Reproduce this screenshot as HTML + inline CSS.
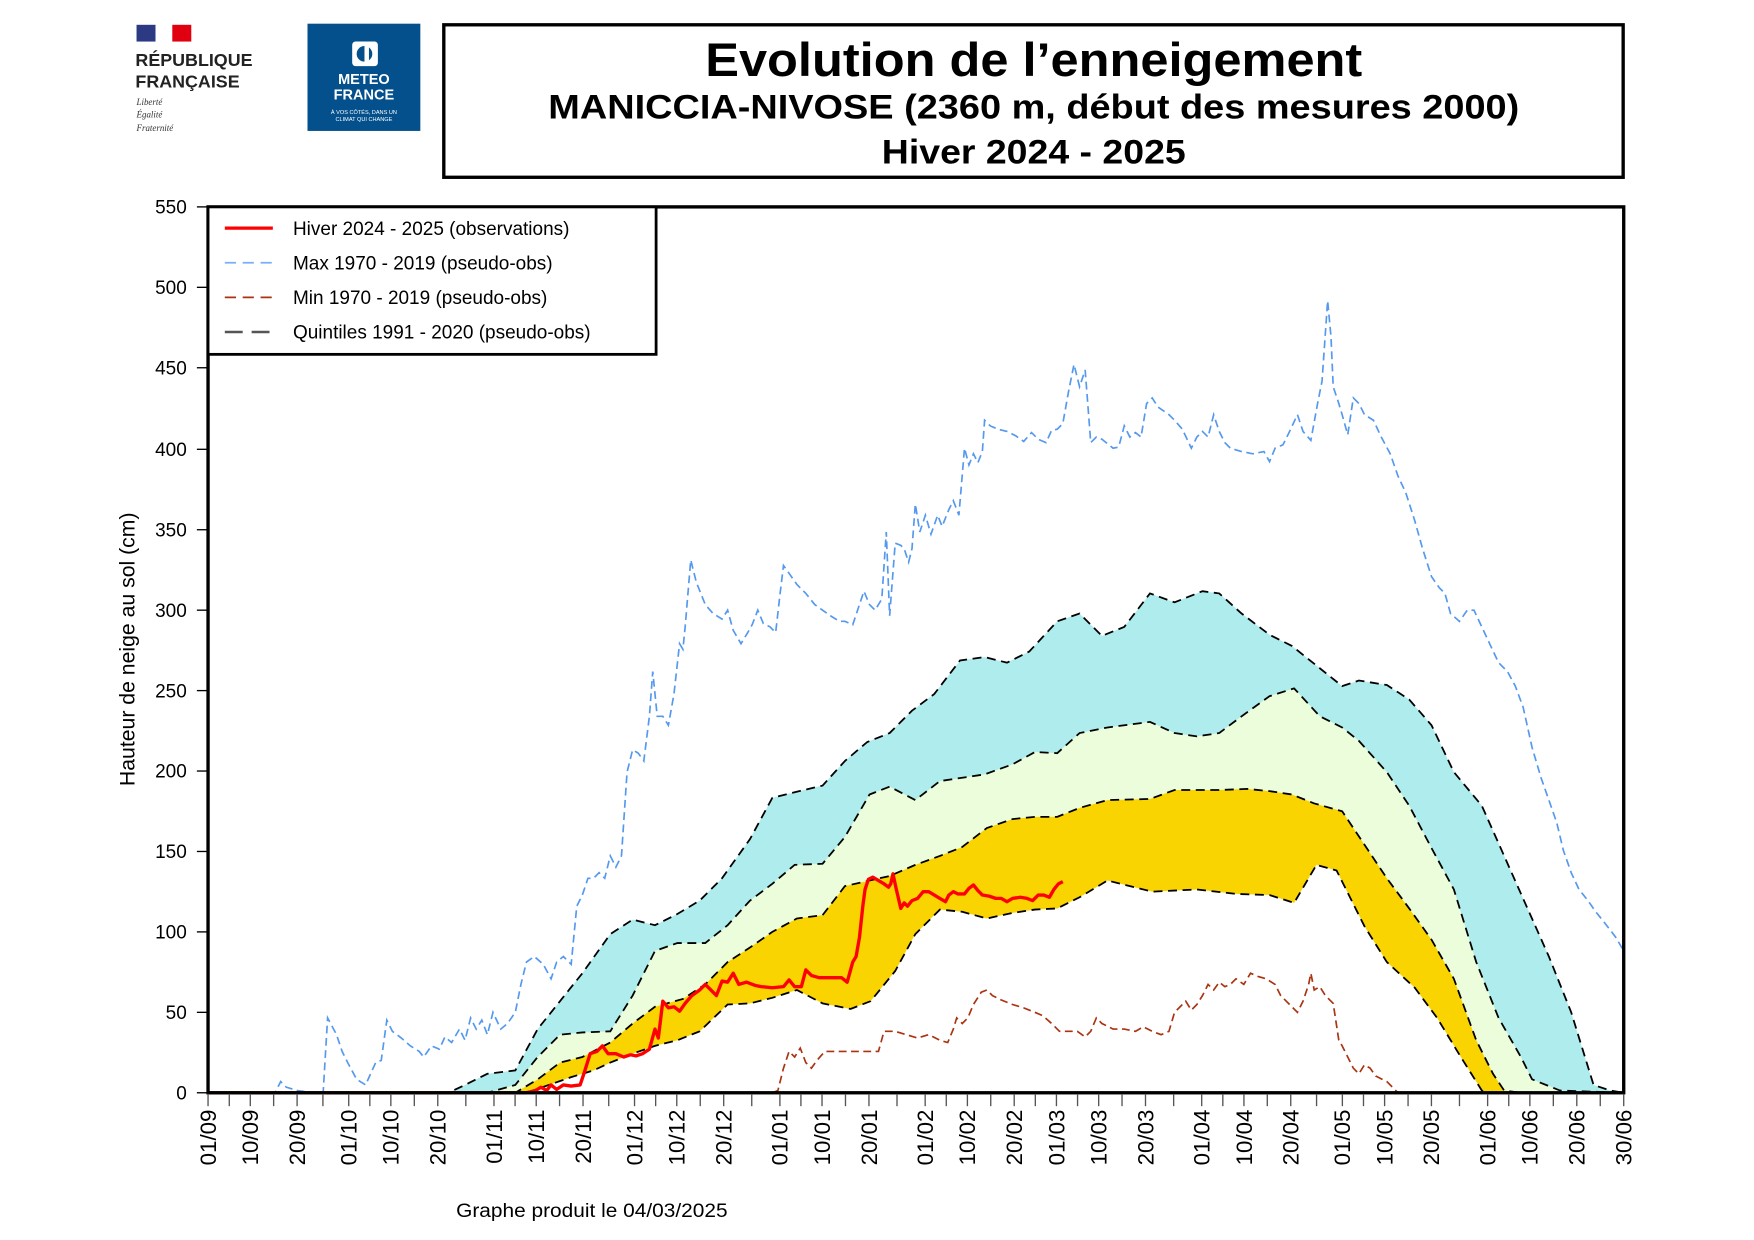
<!DOCTYPE html>
<html><head><meta charset="utf-8"><style>html,body{margin:0;padding:0;background:#fff}svg{display:block}</style></head>
<body>
<svg width="1754" height="1240" viewBox="-1.2 -1.2 1569.8 1110" preserveAspectRatio="none" xmlns="http://www.w3.org/2000/svg" font-family="Liberation Sans, sans-serif">
<rect x="-5" y="-5" width="1580" height="1120" fill="#fff"/>
<!-- logos -->
<rect x="121" y="21" width="17" height="15" fill="#2b3a83"/><rect x="138" y="21" width="15" height="15" fill="#fff"/><rect x="153" y="21" width="17" height="15" fill="#e1000f"/>
<text x="120" y="58" font-size="16" font-weight="bold" fill="#222">RÉPUBLIQUE</text>
<text x="120" y="77" font-size="16" font-weight="bold" fill="#222">FRANÇAISE</text>
<text x="121" y="93" font-size="8" font-style="italic" font-family="Liberation Serif, serif" fill="#333">Liberté</text>
<text x="121" y="104" font-size="8" font-style="italic" font-family="Liberation Serif, serif" fill="#333">Égalité</text>
<text x="121" y="116" font-size="8" font-style="italic" font-family="Liberation Serif, serif" fill="#333">Fraternité</text>
<rect x="274" y="20" width="101" height="96" fill="#03508c"/>
<rect x="314" y="36" width="23" height="22" rx="3" fill="#fff"/><circle cx="325" cy="47" r="7" fill="#03508c"/><rect x="325" y="39" width="4" height="16" fill="#fff"/>
<text x="324.5" y="74" font-size="13" font-weight="bold" fill="#fff" text-anchor="middle">METEO</text>
<text x="324.5" y="88" font-size="13" font-weight="bold" fill="#fff" text-anchor="middle">FRANCE</text>
<text x="324.5" y="101" font-size="5" fill="#fff" text-anchor="middle">À VOS CÔTÉS, DANS UN</text>
<text x="324.5" y="107" font-size="5" fill="#fff" text-anchor="middle">CLIMAT QUI CHANGE</text>
<!-- title -->
<rect x="396" y="21" width="1055.5" height="136.5" fill="none" stroke="#000" stroke-width="3"/>
<text x="924" y="67" font-size="42" font-weight="bold" text-anchor="middle" textLength="588" lengthAdjust="spacingAndGlyphs">Evolution de l’enneigement</text>
<text x="924" y="105" font-size="31" font-weight="bold" text-anchor="middle" textLength="869" lengthAdjust="spacingAndGlyphs">MANICCIA-NIVOSE (2360 m, début des mesures 2000)</text>
<text x="924" y="145" font-size="31" font-weight="bold" text-anchor="middle" textLength="272" lengthAdjust="spacingAndGlyphs">Hiver 2024 - 2025</text>
<!-- bands -->
<polygon fill="#aeeced" points="185,977 400,977 415,970 435,960 460,957 480,920 500,895 520,870 545,835 565,822 585,827 605,817 625,805 645,785 670,750 690,713 710,708 735,702 755,680 775,663 795,655 815,635 835,620 858,590 880,587 900,592 920,582 945,555 965,548 985,568 1005,560 1028,530 1050,538 1075,528 1090,530 1110,548 1135,567 1155,577 1180,597 1200,613 1215,608 1240,612 1260,625 1280,648 1300,690 1325,720 1345,765 1365,810 1385,855 1405,905 1425,970 1440,975 1452,977"/>
<polygon fill="#ebfddb" points="185,977 435,977 460,970 480,945 500,925 520,923 545,922 565,890 585,850 605,843 630,843 650,827 670,805 690,790 710,773 735,772 755,748 777,710 795,703 818,715 840,698 880,692 905,683 925,672 945,673 965,655 990,650 1028,645 1050,655 1070,658 1090,655 1110,640 1135,622 1157,615 1180,640 1200,650 1215,662 1240,690 1260,720 1280,758 1300,795 1320,860 1340,910 1360,945 1370,965 1395,975 1452,977"/>
<polygon fill="#fad400" points="185,977 460,977 480,965 500,950 520,945 545,932 565,915 585,900 610,893 630,880 650,860 670,847 690,833 712,821 735,818 755,792 777,787 795,783 818,773 840,765 860,757 882,740 905,732 925,730 945,730 965,722 990,715 1028,714 1050,706 1090,706 1115,705 1135,707 1155,710 1175,718 1200,725 1220,755 1240,785 1260,812 1280,840 1300,875 1320,930 1335,960 1345,975 1360,977 1452,977"/>
<polygon fill="#fff" points="185,977 470,977 490,970 510,963 530,957 545,950 565,942 585,935 605,930 625,922 650,898 670,897 690,892 712,885 735,897 760,902 778,895 800,868 818,835 840,813 860,815 882,821 905,816 925,813 945,812 965,802 990,787 1030,797 1070,795 1105,799 1135,800 1157,807 1177,773 1195,778 1220,828 1240,860 1265,883 1285,910 1305,943 1325,975 1330,977 1452,977"/>
<g fill="none" stroke="#000" stroke-width="1.6" stroke-dasharray="8,5">
<polyline points="185,977 400,977 415,970 435,960 460,957 480,920 500,895 520,870 545,835 565,822 585,827 605,817 625,805 645,785 670,750 690,713 710,708 735,702 755,680 775,663 795,655 815,635 835,620 858,590 880,587 900,592 920,582 945,555 965,548 985,568 1005,560 1028,530 1050,538 1075,528 1090,530 1110,548 1135,567 1155,577 1180,597 1200,613 1215,608 1240,612 1260,625 1280,648 1300,690 1325,720 1345,765 1365,810 1385,855 1405,905 1425,970 1440,975 1452,977"/>
<polyline points="185,977 435,977 460,970 480,945 500,925 520,923 545,922 565,890 585,850 605,843 630,843 650,827 670,805 690,790 710,773 735,772 755,748 777,710 795,703 818,715 840,698 880,692 905,683 925,672 945,673 965,655 990,650 1028,645 1050,655 1070,658 1090,655 1110,640 1135,622 1157,615 1180,640 1200,650 1215,662 1240,690 1260,720 1280,758 1300,795 1320,860 1340,910 1360,945 1370,965 1395,975 1452,977"/>
<polyline points="185,977 460,977 480,965 500,950 520,945 545,932 565,915 585,900 610,893 630,880 650,860 670,847 690,833 712,821 735,818 755,792 777,787 795,783 818,773 840,765 860,757 882,740 905,732 925,730 945,730 965,722 990,715 1028,714 1050,706 1090,706 1115,705 1135,707 1155,710 1175,718 1200,725 1220,755 1240,785 1260,812 1280,840 1300,875 1320,930 1335,960 1345,975 1360,977 1452,977"/>
<polyline points="185,977 470,977 490,970 510,963 530,957 545,950 565,942 585,935 605,930 625,922 650,898 670,897 690,892 712,885 735,897 760,902 778,895 800,868 818,835 840,813 860,815 882,821 905,816 925,813 945,812 965,802 990,787 1030,797 1070,795 1105,799 1135,800 1157,807 1177,773 1195,778 1220,828 1240,860 1265,883 1285,910 1305,943 1325,975 1330,977 1452,977"/>
</g>
<!-- max -->
<polyline fill="none" stroke="#5599ee" stroke-width="1.5" stroke-dasharray="7,4" points="185,977 245,977 250,967 255,972 265,975 280,977 288,977 292,910 300,925 305,940 310,950 318,965 326,970 335,950 340,948 345,912 350,922 358,928 366,935 374,940 378,945 385,935 392,938 397,927 403,932 410,920 415,930 420,910 425,920 430,912 435,925 440,905 447,920 453,915 460,905 465,880 470,860 477,855 485,862 492,875 497,860 503,855 510,862 515,810 520,800 525,785 530,785 535,780 540,785 545,765 550,775 555,765 560,690 565,670 570,673 575,680 580,640 583,600 587,640 592,640 597,648 602,620 607,575 610,580 612,560 617,500 622,520 630,540 637,548 645,553 650,545 655,563 662,575 668,565 672,558 677,545 682,557 688,560 693,565 697,530 700,505 705,512 712,522 720,530 728,540 735,545 742,550 750,555 755,555 762,558 768,540 772,528 777,540 782,545 788,535 792,475 795,550 800,485 805,487 808,490 812,502 815,490 818,450 822,475 827,460 832,477 838,460 842,470 848,455 852,447 857,460 862,400 866,415 870,405 874,413 878,403 880,375 885,380 892,383 900,385 908,389 915,394 922,386 928,392 935,395 940,384 945,383 950,378 955,350 960,325 965,345 970,330 975,395 980,390 985,392 995,400 1000,399 1005,380 1010,390 1015,386 1020,390 1025,360 1030,355 1035,363 1045,370 1050,375 1057,383 1065,400 1070,390 1075,385 1080,390 1085,370 1090,385 1095,395 1100,400 1110,403 1120,405 1130,403 1135,412 1140,400 1147,397 1152,387 1160,370 1165,385 1172,393 1178,360 1182,340 1187,268 1190,300 1192,345 1197,360 1200,370 1205,388 1210,355 1215,360 1220,370 1228,375 1235,390 1243,405 1250,425 1257,440 1265,465 1272,490 1280,515 1287,525 1292,530 1297,548 1305,555 1312,545 1318,545 1325,560 1332,575 1340,592 1348,600 1355,613 1362,632 1370,668 1378,695 1385,715 1392,735 1398,760 1405,780 1412,795 1420,805 1427,815 1435,825 1445,838 1452,850"/>
<!-- min -->
<polyline fill="none" stroke="#aa3311" stroke-width="1.5" stroke-dasharray="7,4" points="185,977 690,977 695,975 700,955 705,940 710,945 715,937 720,950 725,955 730,948 737,940 750,940 770,940 785,940 790,922 800,922 810,925 820,928 830,925 840,930 847,932 852,920 855,910 860,915 865,910 870,898 877,887 882,885 887,890 895,894 905,898 915,901 925,905 932,908 940,915 947,922 955,922 963,922 970,927 975,922 980,910 985,915 995,920 1005,920 1015,922 1022,918 1030,922 1038,925 1045,922 1050,905 1055,900 1060,895 1065,903 1070,898 1075,890 1080,880 1085,885 1090,878 1095,882 1100,880 1105,875 1112,880 1118,870 1125,873 1132,875 1140,880 1145,890 1150,895 1155,900 1160,905 1165,895 1170,880 1172,870 1175,885 1180,882 1185,890 1192,897 1197,930 1200,935 1205,945 1210,955 1215,960 1220,952 1225,955 1230,962 1240,967 1245,972 1250,977 1452,977"/>
<!-- obs -->
<polyline fill="none" stroke="#ff0000" stroke-width="3" stroke-linejoin="round" points="185,977 470,977 478,975 483,972 488,975 492,970 497,974 503,970 510,971 518,970 522,958 527,942 533,940 538,935 543,942 550,942 557,945 563,943 568,944 574,942 580,938 585,920 588,928 592,895 597,901 602,900 607,904 612,897 618,890 625,885 630,880 635,885 640,890 645,877 650,878 655,870 660,880 667,878 675,881 680,882 690,883 700,882 705,876 710,882 716,882 720,867 725,872 732,874 740,874 752,874 757,878 762,860 765,855 768,838 771,810 773,795 776,786 780,784 785,787 790,790 794,793 796,790 798,781 801,795 805,812 808,807 811,810 815,805 820,803 825,797 830,797 835,800 840,803 845,806 848,800 852,797 856,799 862,799 866,794 870,791 874,796 878,800 884,801 890,803 895,803 900,806 905,803 912,802 918,803 923,805 928,800 933,800 938,802 942,795 946,790 950,788"/>
<!-- axes frame -->
<rect x="185" y="184" width="1267" height="793" fill="none" stroke="#000" stroke-width="3"/>
<!-- y ticks -->
<g stroke="#000" stroke-width="1.2">
<line x1="175" y1="977" x2="185" y2="977"/><line x1="175" y1="905" x2="185" y2="905"/><line x1="175" y1="833" x2="185" y2="833"/><line x1="175" y1="761" x2="185" y2="761"/><line x1="175" y1="689" x2="185" y2="689"/><line x1="175" y1="617" x2="185" y2="617"/><line x1="175" y1="545" x2="185" y2="545"/><line x1="175" y1="473" x2="185" y2="473"/><line x1="175" y1="401" x2="185" y2="401"/><line x1="175" y1="328" x2="185" y2="328"/><line x1="175" y1="256" x2="185" y2="256"/><line x1="175" y1="184" x2="185" y2="184"/>
</g>
<g font-size="17" text-anchor="end">
<text x="166" y="983">0</text><text x="166" y="911">50</text><text x="166" y="839">100</text><text x="166" y="767">150</text><text x="166" y="695">200</text><text x="166" y="623">250</text><text x="166" y="551">300</text><text x="166" y="479">350</text><text x="166" y="407">400</text><text x="166" y="334">450</text><text x="166" y="262">500</text><text x="166" y="190">550</text>
</g>
<text transform="translate(119,580) rotate(-90)" font-size="19" text-anchor="middle">Hauteur de neige au sol (cm)</text>
<!-- x ticks -->
<g stroke="#555" stroke-width="1.2">
<line x1="185" y1="978" x2="185" y2="989"/><line x1="204" y1="978" x2="204" y2="989"/><line x1="222.8" y1="978" x2="222.8" y2="989"/><line x1="243.7" y1="978" x2="243.7" y2="989"/><line x1="264.7" y1="978" x2="264.7" y2="989"/><line x1="287.8" y1="978" x2="287.8" y2="989"/>
<line x1="310.9" y1="978" x2="310.9" y2="989"/><line x1="329.8" y1="978" x2="329.8" y2="989"/><line x1="348.6" y1="978" x2="348.6" y2="989"/><line x1="369.6" y1="978" x2="369.6" y2="989"/><line x1="390.6" y1="978" x2="390.6" y2="989"/><line x1="415.7" y1="978" x2="415.7" y2="989"/>
<line x1="440.9" y1="978" x2="440.9" y2="989"/><line x1="459.8" y1="978" x2="459.8" y2="989"/><line x1="478.7" y1="978" x2="478.7" y2="989"/><line x1="499.6" y1="978" x2="499.6" y2="989"/><line x1="520.6" y1="978" x2="520.6" y2="989"/><line x1="543.6" y1="978" x2="543.6" y2="989"/>
<line x1="566.7" y1="978" x2="566.7" y2="989"/><line x1="585.6" y1="978" x2="585.6" y2="989"/><line x1="604.5" y1="978" x2="604.5" y2="989"/><line x1="625.5" y1="978" x2="625.5" y2="989"/><line x1="646.5" y1="978" x2="646.5" y2="989"/><line x1="671.6" y1="978" x2="671.6" y2="989"/>
<line x1="696.8" y1="978" x2="696.8" y2="989"/><line x1="715.6" y1="978" x2="715.6" y2="989"/><line x1="734.5" y1="978" x2="734.5" y2="989"/><line x1="755.5" y1="978" x2="755.5" y2="989"/><line x1="776.5" y1="978" x2="776.5" y2="989"/><line x1="801.6" y1="978" x2="801.6" y2="989"/>
<line x1="826.8" y1="978" x2="826.8" y2="989"/><line x1="845.7" y1="978" x2="845.7" y2="989"/><line x1="864.6" y1="978" x2="864.6" y2="989"/><line x1="885.5" y1="978" x2="885.5" y2="989"/><line x1="906.5" y1="978" x2="906.5" y2="989"/><line x1="925.4" y1="978" x2="925.4" y2="989"/>
<line x1="944.3" y1="978" x2="944.3" y2="989"/><line x1="963.2" y1="978" x2="963.2" y2="989"/><line x1="982.1" y1="978" x2="982.1" y2="989"/><line x1="1003" y1="978" x2="1003" y2="989"/><line x1="1024" y1="978" x2="1024" y2="989"/><line x1="1049.2" y1="978" x2="1049.2" y2="989"/>
<line x1="1074.3" y1="978" x2="1074.3" y2="989"/><line x1="1093.2" y1="978" x2="1093.2" y2="989"/><line x1="1112.1" y1="978" x2="1112.1" y2="989"/><line x1="1133" y1="978" x2="1133" y2="989"/><line x1="1154" y1="978" x2="1154" y2="989"/><line x1="1177.1" y1="978" x2="1177.1" y2="989"/>
<line x1="1200.2" y1="978" x2="1200.2" y2="989"/><line x1="1219.1" y1="978" x2="1219.1" y2="989"/><line x1="1238" y1="978" x2="1238" y2="989"/><line x1="1259" y1="978" x2="1259" y2="989"/><line x1="1279.9" y1="978" x2="1279.9" y2="989"/><line x1="1305" y1="978" x2="1305" y2="989"/>
<line x1="1330.2" y1="978" x2="1330.2" y2="989"/><line x1="1349.1" y1="978" x2="1349.1" y2="989"/><line x1="1368" y1="978" x2="1368" y2="989"/><line x1="1389" y1="978" x2="1389" y2="989"/><line x1="1410" y1="978" x2="1410" y2="989"/><line x1="1431" y1="978" x2="1431" y2="989"/><line x1="1452" y1="978" x2="1452" y2="989"/>
</g>
<g font-size="20" text-anchor="end">
<text transform="translate(192,992) rotate(-90)">01/09</text><text transform="translate(229.8,992) rotate(-90)">10/09</text><text transform="translate(271.7,992) rotate(-90)">20/09</text>
<text transform="translate(317.9,992) rotate(-90)">01/10</text><text transform="translate(355.6,992) rotate(-90)">10/10</text><text transform="translate(397.6,992) rotate(-90)">20/10</text>
<text transform="translate(447.9,992) rotate(-90)">01/11</text><text transform="translate(485.7,992) rotate(-90)">10/11</text><text transform="translate(527.6,992) rotate(-90)">20/11</text>
<text transform="translate(573.7,992) rotate(-90)">01/12</text><text transform="translate(611.5,992) rotate(-90)">10/12</text><text transform="translate(653.5,992) rotate(-90)">20/12</text>
<text transform="translate(703.8,992) rotate(-90)">01/01</text><text transform="translate(741.5,992) rotate(-90)">10/01</text><text transform="translate(783.5,992) rotate(-90)">20/01</text>
<text transform="translate(833.8,992) rotate(-90)">01/02</text><text transform="translate(871.6,992) rotate(-90)">10/02</text><text transform="translate(913.5,992) rotate(-90)">20/02</text>
<text transform="translate(951.3,992) rotate(-90)">01/03</text><text transform="translate(989.1,992) rotate(-90)">10/03</text><text transform="translate(1031,992) rotate(-90)">20/03</text>
<text transform="translate(1081.3,992) rotate(-90)">01/04</text><text transform="translate(1119.1,992) rotate(-90)">10/04</text><text transform="translate(1161,992) rotate(-90)">20/04</text>
<text transform="translate(1207.2,992) rotate(-90)">01/05</text><text transform="translate(1245,992) rotate(-90)">10/05</text><text transform="translate(1286.9,992) rotate(-90)">20/05</text>
<text transform="translate(1337.2,992) rotate(-90)">01/06</text><text transform="translate(1375,992) rotate(-90)">10/06</text><text transform="translate(1417,992) rotate(-90)">20/06</text><text transform="translate(1459,992) rotate(-90)">30/06</text>
</g>
<text x="407" y="1088" font-size="17" textLength="243" lengthAdjust="spacingAndGlyphs">Graphe produit le 04/03/2025</text>
<!-- legend -->
<rect x="185" y="184" width="401" height="132" fill="#fff" stroke="#000" stroke-width="2.5"/>
<line x1="200" y1="203" x2="243" y2="203" stroke="#ff0000" stroke-width="3"/>
<line x1="200" y1="234" x2="243" y2="234" stroke="#77b0f5" stroke-width="1.5" stroke-dasharray="10,6"/>
<line x1="200" y1="265" x2="243" y2="265" stroke="#aa3311" stroke-width="1.5" stroke-dasharray="10,6"/>
<line x1="200" y1="296" x2="243" y2="296" stroke="#555" stroke-width="2.2" stroke-dasharray="16,8"/>
<g font-size="17">
<text x="261" y="209">Hiver 2024 - 2025 (observations)</text>
<text x="261" y="240">Max 1970 - 2019 (pseudo-obs)</text>
<text x="261" y="271">Min 1970 - 2019 (pseudo-obs)</text>
<text x="261" y="302">Quintiles 1991 - 2020 (pseudo-obs)</text>
</g>
</svg>
</body></html>
